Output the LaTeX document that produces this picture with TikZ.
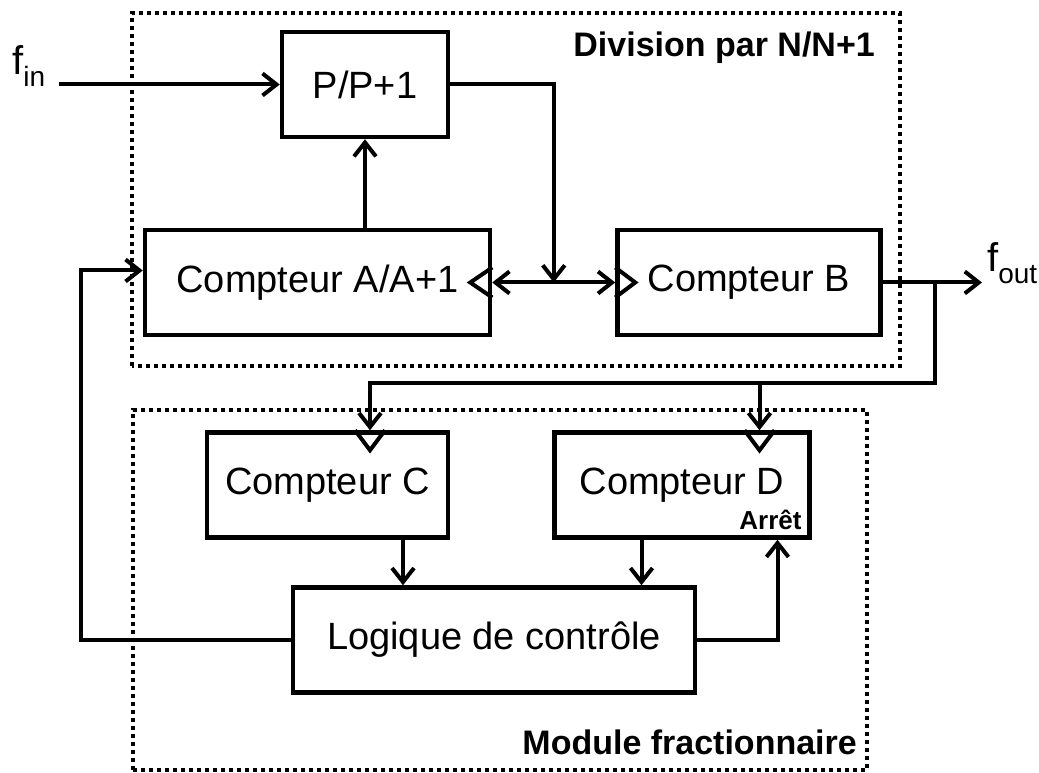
\documentclass[tikz,border=0pt]{standalone}
\usepackage{fontspec}
\setmainfont{Liberation Sans}
\usetikzlibrary{arrows.meta, calc, positioning}

\newcommand{\sig}[2]{#1\raisebox{-12pt}{\fontsize{28}{30}\selectfont #2}}

\begin{document}
\begin{tikzpicture}[
    x=1pt, y=1pt,
    >={Straight Barb[length=14pt,width=22pt]},
    block/.style={
        draw,
        line width=4.5pt,
        minimum height=105pt,
        inner sep=0pt,
        font=\fontsize{38}{44}\selectfont
    },
    wire/.style={line width=4pt},
    frame/.style={line width=4pt, dash pattern=on 4pt off 4pt},
    title/.style={font=\bfseries\fontsize{34}{38}\selectfont, inner sep=0pt, anchor=base east},
    clk/.style={line width=4pt, line join=miter}
]
\useasboundingbox (0,0) rectangle (1039,773);

% dotted frames
\draw[frame] (132,407) rectangle (900,760);
\draw[frame] (133,3) rectangle (867,363);
\node[title] (div) at (875,716) {Division par N/N+1};
\node[title] (frac) at (857,18) {Module fractionnaire};

% blocks
\node[block, minimum width=166pt] (P) at (365,688.5) {P/P+1};
\node[block, minimum width=345pt] (A) at (317.5,490.5) {Compteur A/A+1};
\node[block, minimum width=263pt, right=123pt of A] (B) {Compteur B};
\node[block, minimum width=241pt] (C) at (327.5,288) {Compteur C};
\node[block, minimum width=255pt, right=102pt of C] (D) {Compteur D};
\node[block, minimum width=402pt] (L) at (494,133) {Logique de contr\^ole};
\node[anchor=base east, inner sep=0pt, font=\bfseries\fontsize{26}{28}\selectfont]
    (stop) at ([shift={(-10,10)}]D.south east) {Arrêt};

% clock inputs
\draw[clk] ([yshift=15pt]A.east) -- ++(-22,-15) -- ++(22,-15);
\draw[clk] ([yshift=15pt]B.west) -- ++(20,-15) -- ++(-20,-15);
\coordinate (cclk) at ([xshift=42.5pt]C.north);
\coordinate (dclk) at ([xshift=77.5pt]D.north);
\draw[clk] ([xshift=-15pt]cclk) -- ++(15,-20) -- ++(15,20);
\draw[clk] ([xshift=-15pt]dclk) -- ++(15,-20) -- ++(15,20);

% signals
\node[anchor=base west, inner sep=0pt, font=\fontsize{40}{44}\selectfont] (fin) at (12,698) {\sig{f}{in}};
\node[anchor=base west, inner sep=0pt, font=\fontsize{40}{44}\selectfont] (fout) at (987,501) {\sig{f}{out}};

\draw[wire,->] ([xshift=14pt]fin.east |- P.west) -- (P.west);
\draw[wire,->] (A.north -| P.south) -- (P.south);
\coordinate (mid) at ($(A.east)!0.5!(B.west)$);
\draw[wire,<->] (A.east) -- (B.west);
\draw[wire,->] (P.east) -| (mid);
\draw[wire,->] (B.east) -- ([xshift=-5pt]B.east -| fout.west);

\coordinate (tap) at ([xshift=52pt]B.east);
\coordinate (bus) at ([yshift=-100.5pt]tap);
\draw[wire,->] (tap) -- (bus) -| (cclk);
\draw[wire,->] (bus -| dclk) -- (dclk);

\draw[wire,->] ([xshift=75.5pt]C.south) -- ([xshift=75.5pt]C.south |- L.north);
\draw[wire,->] ([xshift=-40.5pt]D.south) -- ([xshift=-40.5pt]D.south |- L.north);
\draw[wire,->] (L.east) -| ([xshift=95.5pt]D.south);
\draw[wire,->] (L.west) -- ++(-210,0) |- ([yshift=12pt]A.west);
\end{tikzpicture}
\end{document}
